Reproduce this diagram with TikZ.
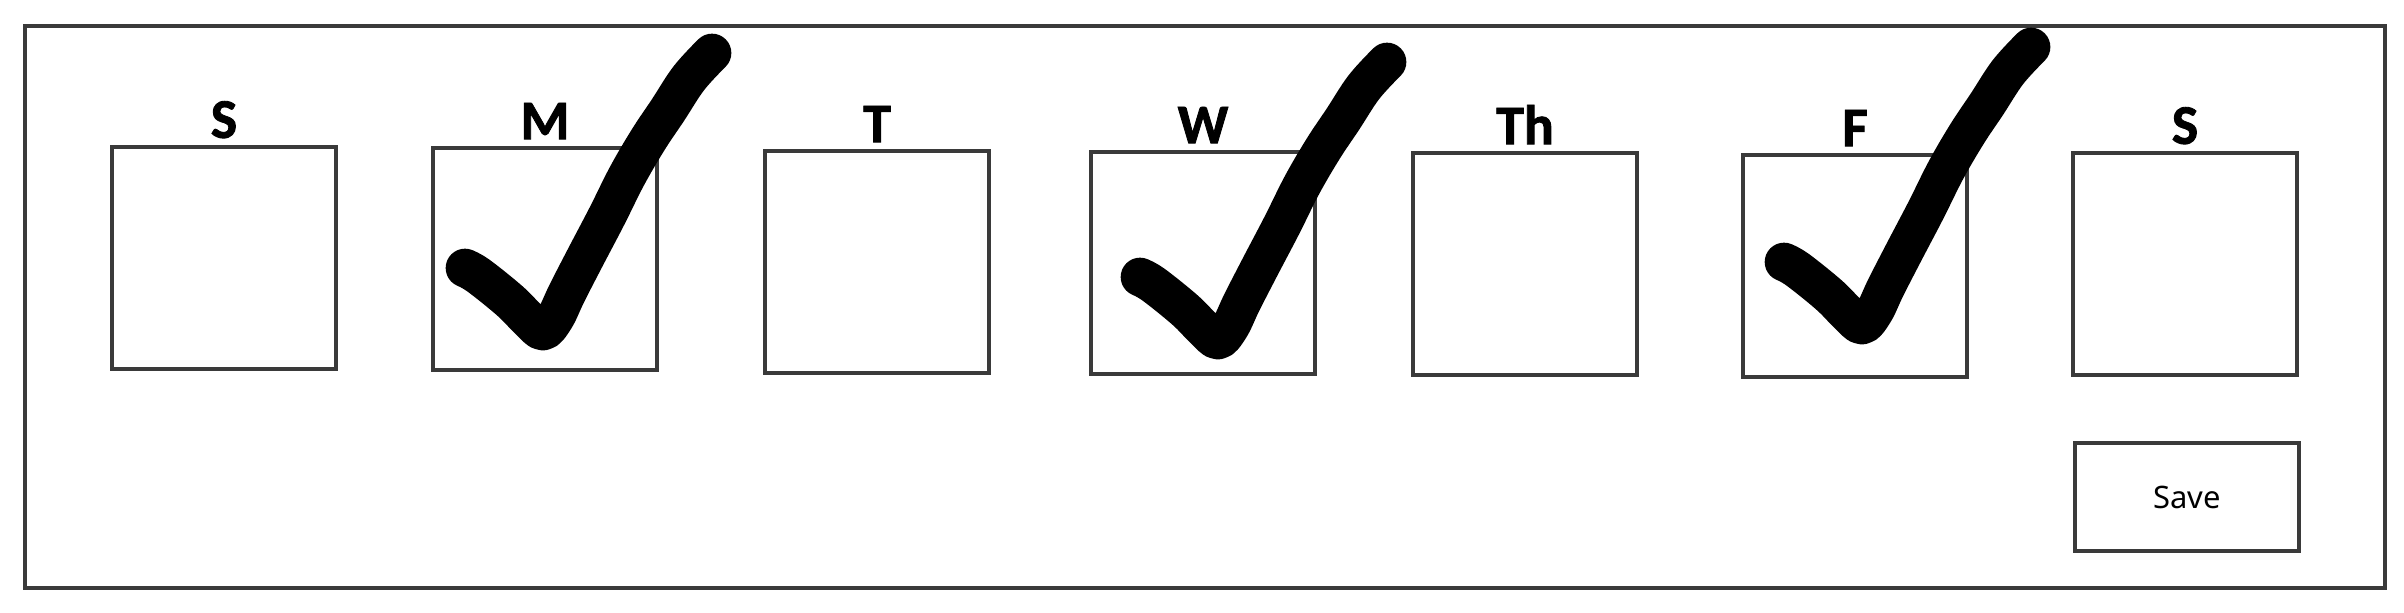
\documentclass[tikz,border=0pt]{standalone}
\usepackage{fontspec}
\setmainfont{Carlito}
\newfontfamily\dayfont{Carlito}[BoldFeatures={FakeBold=1.5}]
\newfontfamily\btnfont{Noto Sans}
\usetikzlibrary{positioning}
\definecolor{linegray}{HTML}{3A3A3A}
\tikzset{
	daybox/.style={draw=linegray, line width=1.15pt, minimum width=2.24cm, minimum height=2.22cm, inner sep=0pt},
	daylabel/.style={inner sep=0pt, font=\dayfont\bfseries\fontsize{15.9}{18}\selectfont},
	checkstroke/.style={line width=11pt, line cap=round, line join=round},
}
\begin{document}
\begin{tikzpicture}[x=0.01cm, y=-0.01cm]
	\useasboundingbox (0,0) rectangle (2404,612);
	% frame
	\draw[linegray, line width=1.15pt] (25,26) rectangle (2385,588);
	% days
	\foreach \name/\cx/\cy/\txt in {sun/224/258/S, mon/545/259/M, tue/877/262/T, wed/1203/263/W, thu/1525/264/Th, fri/1855/266/F, sat/2185/264/S}{
		\node[daybox] (\name) at (\cx,\cy) {};
		\node[daylabel, above=0.06cm of \name] (\name-lbl) {\txt};
	}
	% save button
	\node[daybox, minimum height=1.08cm, font=\btnfont\fontsize{8.8}{10}\selectfont] (save) at (2187,497) {Save};
	% ticks
	\foreach \sx/\sy in {465/268, 1140/277, 1784/262}{
		\begin{scope}[shift={(\sx,\sy)}]
			\draw[checkstroke] plot[smooth, tension=0.6] coordinates {(0,0) (14,8) (45,33) (64,52) (78,63) (90,50) (102,25) (120,-10) (142,-52) (162,-92) (183,-128) (203,-158) (224,-190) (247,-215)};
		\end{scope}
	}
\end{tikzpicture}
\end{document}
